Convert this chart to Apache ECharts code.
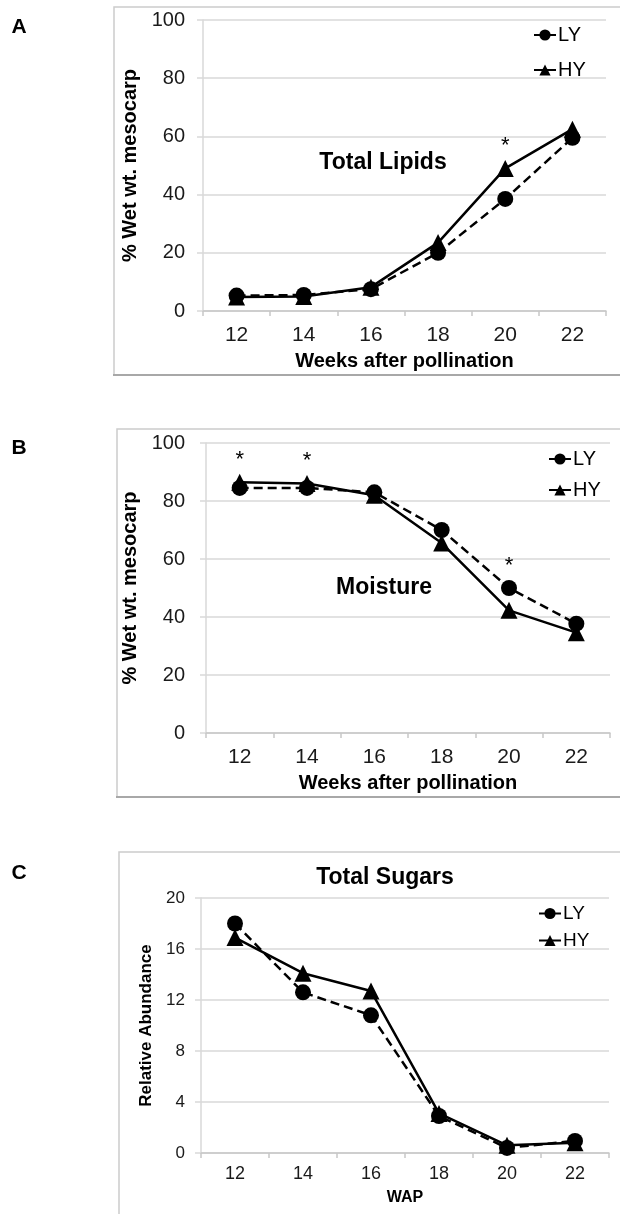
<!DOCTYPE html>
<html>
<head>
<meta charset="utf-8">
<script src="https://cdn.jsdelivr.net/npm/echarts@6/dist/echarts.min.js"></script>
<style>
  html, body { margin: 0; padding: 0; background: #fff; }
  #chart { width: 620px; height: 1214px; }
</style>
</head>
<body>
<div id="chart"></div>
<script>
const weeks = ["12", "14", "16", "18", "20", "22"];

const lipidsLY = [5.3, 5.5, 7.5, 20, 38.5, 59.5];
const lipidsHY = [4.8, 5, 8.2, 23.5, 49, 62.5];
const lipidsStarsHY = [4];

const moistureLY = [84.5, 84.5, 83, 70, 50, 37.7];
const moistureHY = [86.5, 86, 82, 65.5, 42.3, 34.6];
const moistureStarsLY = [4];
const moistureStarsHY = [0, 1];

const sugarsLY = [18, 12.6, 10.8, 2.9, 0.4, 0.95];
const sugarsHY = [16.9, 14.1, 12.7, 3.1, 0.6, 0.8];

const percentTicks = [0, 20, 40, 60, 80, 100];
const sugarTicks = [0, 4, 8, 12, 16, 20];

const FONT = "'Liberation Sans', Arial, sans-serif";
const GRID_COLOR = "#d9d9d9";

function withStars(values, stars) {
  return values.map((v, i) =>
    stars.includes(i)
      ? {
          value: v,
          label: {
            show: true,
            position: "top",
            distance: 3,
            formatter: "*",
            color: "#000",
            fontSize: 22,
            fontFamily: FONT,
          },
        }
      : v
  );
}

function makeX(gridIndex, title, fontSize, titleSize, nameGap, margin) {
  return {
    type: "category",
    gridIndex: gridIndex,
    data: weeks,
    boundaryGap: true,
    name: title,
    nameLocation: "middle",
    nameGap: nameGap,
    nameTextStyle: {
      fontFamily: FONT,
      fontWeight: "bold",
      fontSize: titleSize,
      color: "#000",
    },
    axisLine: { lineStyle: { color: "#c8c8c8", width: 1.5 } },
    axisTick: {
      show: true,
      alignWithLabel: false,
      length: 5,
      lineStyle: { color: "#c8c8c8", width: 1.5 },
    },
    axisLabel: {
      fontFamily: FONT,
      fontSize: fontSize,
      color: "#1a1a1a",
      margin: margin,
    },
    splitLine: { show: false },
  };
}

function makeY(gridIndex, ticks, title, fontSize, titleSize, nameGap, margin) {
  return {
    type: "value",
    gridIndex: gridIndex,
    min: ticks[0],
    max: ticks[ticks.length - 1],
    interval: ticks[1] - ticks[0],
    name: title,
    nameLocation: "middle",
    nameRotate: 90,
    nameGap: nameGap,
    nameTextStyle: {
      fontFamily: FONT,
      fontWeight: "bold",
      fontSize: titleSize,
      color: "#000",
    },
    axisLine: { show: true, lineStyle: { color: GRID_COLOR, width: 1.5 } },
    axisTick: {
      show: true,
      length: 6,
      lineStyle: { color: GRID_COLOR, width: 1.5 },
    },
    axisLabel: {
      fontFamily: FONT,
      fontSize: fontSize,
      color: "#1a1a1a",
      margin: margin,
    },
    splitLine: { lineStyle: { color: GRID_COLOR, width: 1.5 } },
  };
}

function lySeries(idx, data) {
  return {
    name: "LY",
    type: "line",
    xAxisIndex: idx,
    yAxisIndex: idx,
    data: data,
    symbol: "circle",
    symbolSize: 16,
    itemStyle: { color: "#000" },
    lineStyle: { color: "#000", width: 2.5, type: [9, 5] },
    animation: false,
    z: 3,
  };
}

function hySeries(idx, data) {
  return {
    name: "HY",
    type: "line",
    xAxisIndex: idx,
    yAxisIndex: idx,
    data: data,
    symbol: "triangle",
    symbolSize: 17,
    itemStyle: { color: "#000" },
    lineStyle: { color: "#000", width: 2.5, type: "solid" },
    animation: false,
    z: 4,
  };
}

function makeLegend(idx, top, left, fontSize, gap) {
  return {
    id: "legend" + idx,
    orient: "vertical",
    left: left,
    top: top,
    itemWidth: 22,
    itemHeight: 14,
    itemGap: gap,
    data: ["LY", "HY"],
    textStyle: { fontFamily: FONT, fontSize: fontSize, color: "#000", padding: [0, 0, 0, -3] },
    lineStyle: { type: "solid", width: 2 },
    selectedMode: false,
  };
}

function frame(x, y, h) {
  return {
    type: "rect",
    shape: { x: x, y: y, width: 700, height: h },
    style: { fill: "none", stroke: "#cccccc", lineWidth: 1.5 },
    silent: true,
    z: -1,
  };
}

function frameBottom(x, y) {
  return {
    type: "line",
    shape: { x1: x, y1: y, x2: 640, y2: y },
    style: { stroke: "#a8a8a8", lineWidth: 2 },
    silent: true,
    z: -1,
  };
}

function txt(x, y, text, size) {
  return {
    type: "text",
    x: x,
    y: y,
    style: {
      text: text,
      fontFamily: FONT,
      fontWeight: "bold",
      fontSize: size,
      fill: "#000",
      align: "center",
      verticalAlign: "middle",
    },
    silent: true,
  };
}

const chart = echarts.init(document.getElementById("chart"));

const option = {
  animation: false,
  backgroundColor: "#fff",
  grid: [
    { left: 203, top: 20, width: 403, height: 291, containLabel: false },
    { left: 206, top: 443, width: 404, height: 290, containLabel: false },
    { left: 201, top: 898, width: 408, height: 255, containLabel: false },
  ],
  xAxis: [
    makeX(0, "Weeks after pollination", 21, 20, 40, 14),
    makeX(1, "Weeks after pollination", 21, 20, 40, 14),
    makeX(2, "WAP", 18, 16, 37, 12),
  ],
  yAxis: [
    makeY(0, percentTicks, "% Wet wt. mesocarp", 20, 20, 55, 18),
    makeY(1, percentTicks, "% Wet wt. mesocarp", 20, 20, 56, 21),
    makeY(2, sugarTicks, "Relative Abundance", 17, 17, 38, 16),
  ],
  legend: [
    makeLegend(0, 20, 528, 20, 15),
    makeLegend(1, 444, 543, 20, 11),
    makeLegend(2, 899, 533, 19, 8),
  ],
  series: [
    lySeries(0, lipidsLY),
    hySeries(0, withStars(lipidsHY, lipidsStarsHY)),
    lySeries(1, withStars(moistureLY, moistureStarsLY)),
    hySeries(1, withStars(moistureHY, moistureStarsHY)),
    lySeries(2, sugarsLY),
    hySeries(2, sugarsHY),
  ],
  graphic: [
    frame(114, 7, 368),
    frame(117, 429, 368),
    frame(119, 852, 400),
    frameBottom(113, 375),
    frameBottom(116, 797),
    txt(19, 27, "A", 21),
    txt(19, 448, "B", 21),
    txt(19, 873, "C", 21),
    txt(383, 163, "Total Lipids", 23),
    txt(384, 588, "Moisture", 23),
    txt(385, 878, "Total Sugars", 23),
  ],
};

chart.setOption(option);
</script>
</body>
</html>
